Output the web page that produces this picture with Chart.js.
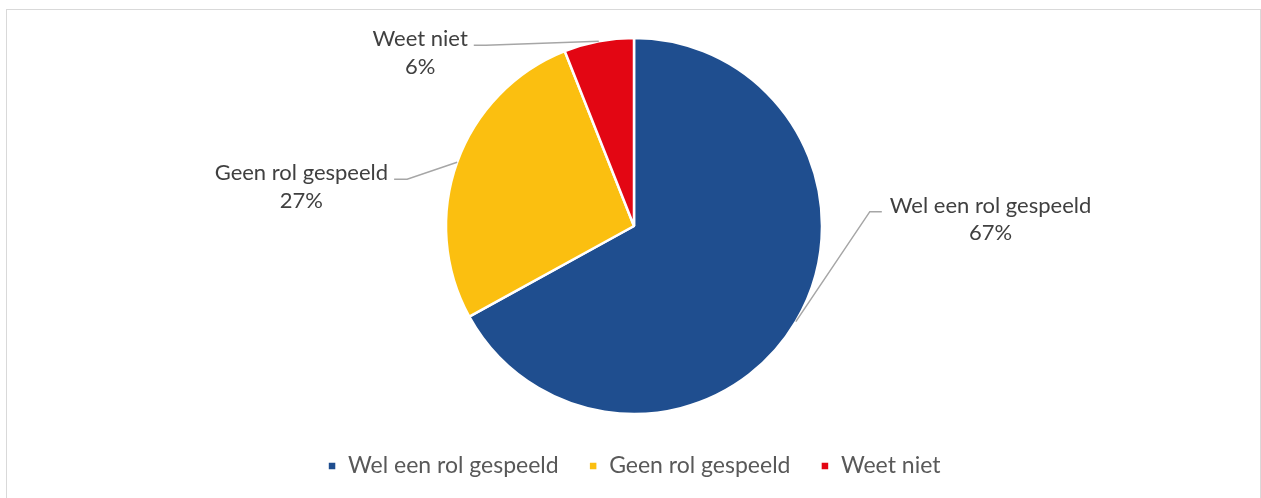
<!DOCTYPE html>
<html><head><meta charset="utf-8">
<script src="https://cdn.jsdelivr.net/npm/chart.js@4"></script>
<style>
html,body{margin:0;padding:0;background:#fff;}
#wrap{position:relative;width:1261px;height:498px;overflow:hidden;}
#frame{position:absolute;left:6px;top:9px;width:1253px;height:520px;border:1px solid #d9d9d9;pointer-events:none;}
canvas{position:absolute;left:0;top:0;}
</style></head><body>
<div id="wrap"><canvas id="c" width="1261" height="498"></canvas><div id="frame"></div></div>
<script>
// ---- data ----
const categories = ['Wel een rol gespeeld', 'Geen rol gespeeld', 'Weet niet'];
const values = [67, 27, 6];
const colors = ['#1F4E8F', '#FBBF10', '#E30613'];

// ---- label styling (leader geometry relative to slice edge) ----
const labelLayout = [
  { elbow: [74, -110], tail: 12, gap: 8 },
  { elbow: [-50, 17], tail: -13, gap: 6 },
  { elbow: [-113, 4], tail: -12, gap: 6 }
];
const labelFont = '22px Lato';
const textColor = '#404040';

const leaderLabels = {
  id: 'leaderLabels',
  afterDatasetsDraw(chart) {
    const ctx = chart.ctx;
    const meta = chart.getDatasetMeta(0);
    const total = values.reduce((a, b) => a + b, 0);
    meta.data.forEach((arc, i) => {
      const p = arc.getProps(['x', 'y', 'startAngle', 'endAngle', 'outerRadius'], true);
      const mid = (p.startAngle + p.endAngle) / 2;
      const ex = p.x + Math.cos(mid) * p.outerRadius;
      const ey = p.y + Math.sin(mid) * p.outerRadius;
      const L = labelLayout[i];
      const bx = ex + L.elbow[0], by = ey + L.elbow[1];
      const tx = bx + L.tail, ty = by;
      ctx.save();
      ctx.strokeStyle = '#A6A6A6';
      ctx.lineWidth = 1.5;
      ctx.beginPath();
      ctx.moveTo(ex, ey); ctx.lineTo(bx, by); ctx.lineTo(tx, ty);
      ctx.stroke();
      ctx.font = labelFont;
      ctx.fillStyle = textColor;
      ctx.textAlign = 'center';
      ctx.textBaseline = 'alphabetic';
      const l1 = categories[i];
      const l2 = Math.round(values[i] / total * 100) + '%';
      const w = Math.max(ctx.measureText(l1).width, ctx.measureText(l2).width);
      const side = Math.sign(L.tail);
      const cx = tx + side * (L.gap + w / 2);
      ctx.fillText(l1, cx, ty + 1);
      ctx.fillText(l2, cx, ty + 28.5);
      ctx.restore();
    });
  }
};

new Chart(document.getElementById('c'), {
  type: 'pie',
  data: {
    labels: categories,
    datasets: [{
      data: values,
      backgroundColor: colors,
      borderColor: '#ffffff',
      borderWidth: 2.5,
      radius: 188
    }]
  },
  options: {
    responsive: false,
    animation: false,
    events: [],
    layout: { padding: { top: 27.5, bottom: 10.5, left: 7, right: 0 } },
    plugins: {
      tooltip: { enabled: false },
      legend: {
        position: 'bottom',
        labels: {
          boxWidth: 9,
          boxHeight: 9,
          padding: 30,
          color: '#595959',
          font: { family: 'Lato', size: 23 }
        }
      }
    }
  },
  plugins: [leaderLabels]
});
</script>
</body></html>
